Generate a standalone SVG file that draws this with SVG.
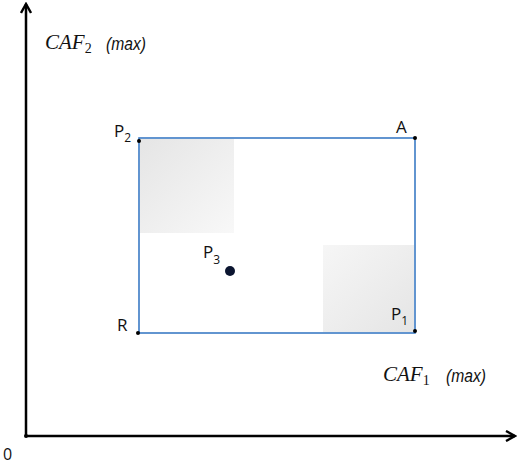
<svg xmlns="http://www.w3.org/2000/svg" width="518" height="460" viewBox="0 0 518 460">
<style>
.lbl{font-family:"Open Sans","Liberation Sans",sans-serif;font-size:17px;fill:#111}
.sub{font-size:12px}
.caf{font-family:"Liberation Serif",serif;font-style:italic;font-size:21px;fill:#111}
.cafsub{font-family:"Liberation Serif",serif;font-style:normal;font-size:14px}
.max{font-family:"Liberation Sans",sans-serif;font-style:italic;font-size:19px;fill:#111}
.axis{stroke:#000;stroke-width:2.5;fill:none}
.dot{fill:#000}
</style>
<defs>
<marker id="arr" viewBox="0 0 12 12" refX="10" refY="6" markerWidth="12" markerHeight="12" markerUnits="userSpaceOnUse" orient="auto">
<path d="M1,1 L10,6 L1,11" fill="none" stroke="#000" stroke-width="2.4"/>
</marker>
<linearGradient id="g1" x1="0" y1="0" x2="1" y2="1">
<stop offset="0" stop-color="#e5e5e5"/>
<stop offset="1" stop-color="#f8f8f8"/>
</linearGradient>
<linearGradient id="g2" x1="0" y1="0" x2="1" y2="1">
<stop offset="0" stop-color="#f6f6f6"/>
<stop offset="1" stop-color="#e5e5e5"/>
</linearGradient>
</defs>
<g id="axes">
<line class="axis" x1="26" y1="436" x2="26" y2="4" marker-end="url(#arr)"/>
<line class="axis" x1="26" y1="436" x2="515" y2="436" marker-end="url(#arr)"/>
<circle class="dot" cx="26" cy="436" r="2"/>
<text class="lbl" x="3" y="460" style="font-size:16px">0</text>
<text class="caf" x="45" y="49">CAF<tspan class="cafsub" dy="4">2</tspan></text>
<text class="max" x="106" y="50" textLength="40" lengthAdjust="spacingAndGlyphs">(max)</text>
<text class="caf" x="383" y="381">CAF<tspan class="cafsub" dy="4">1</tspan></text>
<text class="max" x="446" y="382" textLength="40" lengthAdjust="spacingAndGlyphs">(max)</text>
</g>
<g id="shading">
<rect x="140" y="139" width="94" height="94" fill="url(#g1)"/>
<rect x="323" y="245" width="91" height="87" fill="url(#g2)"/>
</g>
<g id="connectors">
<rect x="139" y="138" width="276" height="195" fill="none" stroke="#3b7bc5" stroke-width="1.6"/>
</g>
<g id="node-P2">
<circle class="dot" cx="139" cy="141" r="2"/>
<text class="lbl" x="114" y="137">P<tspan class="sub" dy="5">2</tspan></text>
</g>
<g id="node-A">
<circle class="dot" cx="415" cy="138" r="2"/>
<text class="lbl" x="396" y="133">A</text>
</g>
<g id="node-R">
<circle class="dot" cx="138" cy="333" r="2"/>
<text class="lbl" x="117" y="331">R</text>
</g>
<g id="node-P1">
<circle class="dot" cx="415" cy="331" r="2"/>
<text class="lbl" x="391" y="320">P<tspan class="sub" dy="5">1</tspan></text>
</g>
<g id="node-P3">
<circle cx="230" cy="271" r="5" fill="#0b1530"/>
<text class="lbl" x="203" y="258">P<tspan class="sub" dy="6">3</tspan></text>
</g>
</svg>
